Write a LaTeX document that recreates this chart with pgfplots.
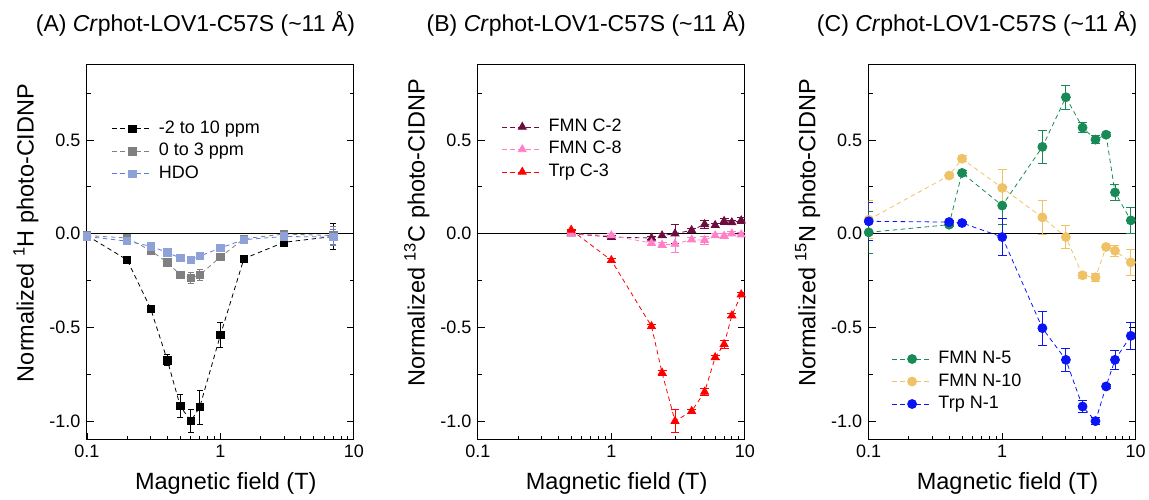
\documentclass[border=0pt]{standalone}
\usepackage{fontspec}
\setmainfont{Liberation Sans}
\usepackage{pgfplots}
\pgfplotsset{compat=1.18}
\definecolor{hdo}{HTML}{8EA2D8}
\definecolor{hdoline}{HTML}{5B7BE0}
\definecolor{gr}{HTML}{808080}
\definecolor{ctwo}{HTML}{6B0D3E}
\definecolor{ceight}{HTML}{FF80C8}
\definecolor{nfive}{HTML}{178A56}
\definecolor{nten}{HTML}{F0C266}
\definecolor{trpn}{HTML}{0A14F5}
\pgfplotsset{
    scale only axis, width=267pt, height=375pt,
    tick align=inside, major tick length=7pt, minor tick length=4pt,
    every tick/.style={black, line width=0.9pt},
    axis line style={line width=1pt},
    ticklabel style={font=\fontsize{18}{20}\selectfont},
    yticklabel style={xshift=-3pt},
    xticklabel style={yshift=-2pt},
    every axis x label/.style={at={(axis description cs:0.52,-0.115)}, anchor=center, font=\fontsize{23.5}{26}\selectfont},
    every axis y label/.style={at={(axis description cs:-0.2285,0.552)}, anchor=center, rotate=90, font=\fontsize{23.5}{26}\selectfont},
    title style={at={(axis description cs:0.5,1)}, anchor=center, yshift=35pt, xshift=-25pt, font=\fontsize{23}{26}\selectfont},
    legend cell align=left,
    legend style={draw=none, fill=none, inner sep=0pt, outer sep=0pt,
      font=\fontsize{18}{20}\selectfont, row sep=3.5pt,
      nodes={text height=13pt, text depth=4pt, inner sep=1pt},
      /tikz/every odd column/.append style={column sep=5pt}},
    legend image code/.code={\draw[mark repeat=2,mark phase=2,#1] plot coordinates {(0pt,0pt) (20pt,0pt) (40pt,0pt)};},
    every axis plot/.append style={dash pattern=on 4.5pt off 3.5pt, line width=0.8pt},
}
\pgfplotsset{
  cidnpaxis/.style={
    xmin=0.1, xmax=10, ymin=-1.1, ymax=0.9,
    xtick={0.1,1,10}, xticklabels={0.1,1,10},
    minor xtick={0.2,0.3,0.4,0.5,0.6,0.7,0.8,0.9,2,3,4,5,6,7,8,9},
    ytick={-1,-0.5,0,0.5}, yticklabels={-1.0,-0.5,0.0,0.5},
    minor ytick={-0.75,-0.25,0.25,0.75},
    xtick pos=left, xlabel={Magnetic field (T)}},
  eb/.style={mark options={solid},
      error bars/y dir=both, error bars/y explicit,
      error bars/error bar style={solid, line width=0.8pt},
      error bars/error mark options={rotate=90, mark size=#1, solid, line width=0.8pt}},
  eb/.default=4.5pt,
}
\begin{document}
\begin{tikzpicture}[x=1pt,y=1pt]
\path (0,0) rectangle (1149,500);
% ---------------- Panel A ----------------
\begin{semilogxaxis}[cidnpaxis, at={(87pt,60pt)}, anchor=south west,
  title={(A) \textit{Cr}phot-LOV1-C57S (\textasciitilde11 Å)},
  ylabel={Normalized \textsuperscript{1}H photo-CIDNP},
  legend style={at={(axis description cs:0.094,0.855)}, anchor=north west}]
\addplot[black, solid, line width=1pt, forget plot] coordinates {(0.1,0) (10,0)};
\addplot[black, mark=square*, mark size=3.7pt, eb=3pt] coordinates {
(0.1,-0.01) +- (0,0.005) (0.2,-0.14) +- (0,0.01) (0.3,-0.40) +- (0,0.01)
(0.4,-0.675) +- (0,0.03) (0.5,-0.92) +- (0,0.06) (0.6,-1.0) +- (0,0.06)
(0.7,-0.925) +- (0,0.09) (1,-0.54) +- (0,0.065) (1.5,-0.133) +- (0,0.01)
(3,-0.046) +- (0,0.01) (7,-0.015) +- (0,0.07)};
\addlegendentry{-2 to 10 ppm}
\addplot[gr, mark=square*, mark size=3.7pt, eb=3pt] coordinates {
(0.1,-0.01) +- (0,0.01) (0.2,-0.023) +- (0,0.01) (0.3,-0.09) +- (0,0.015)
(0.4,-0.153) +- (0,0.01) (0.5,-0.22) +- (0,0.015) (0.6,-0.236) +- (0,0.03)
(0.7,-0.22) +- (0,0.03) (1,-0.124) +- (0,0.01) (1.5,-0.027) +- (0,0.01)
(3,-0.002) +- (0,0.01) (7,-0.01) +- (0,0.05)};
\addlegendentry{0 to 3 ppm}
\addplot[hdoline, mark=square*, mark size=3.7pt, eb=3pt, mark options={solid, fill=hdo, draw=hdo}] coordinates {
(0.1,-0.015) +- (0,0.01) (0.2,-0.04) +- (0,0.01) (0.3,-0.067) +- (0,0.01)
(0.4,-0.10) +- (0,0.01) (0.5,-0.13) +- (0,0.01) (0.6,-0.14) +- (0,0.01)
(0.7,-0.12) +- (0,0.01) (1,-0.076) +- (0,0.01) (1.5,-0.032) +- (0,0.01)
(3,-0.015) +- (0,0.01) (7,-0.018) +- (0,0.04)};
\addlegendentry{HDO}
\end{semilogxaxis}
% ---------------- Panel B ----------------
\begin{semilogxaxis}[cidnpaxis, at={(478pt,60pt)}, anchor=south west,
  title={(B) \textit{Cr}phot-LOV1-C57S (\textasciitilde11 Å)},
  ylabel={Normalized \textsuperscript{13}C photo-CIDNP},
  legend style={at={(axis description cs:0.09,0.86)}, anchor=north west}]
\addplot[black, solid, line width=1pt, forget plot] coordinates {(0.1,0) (10,0)};
\addplot[ctwo, mark=triangle*, mark size=4.6pt, eb] coordinates {
(0.5,0) +- (0,0.003) (1,-0.018) +- (0,0.01) (2,-0.023) +- (0,0.01)
(2.4,-0.01) +- (0,0.01) (3,0.0) +- (0,0.05) (4,0.018) +- (0,0.01)
(5,0.05) +- (0,0.02) (6,0.045) +- (0,0.01) (7,0.067) +- (0,0.015)
(8,0.06) +- (0,0.01) (9.4,0.07) +- (0,0.015)};
\addlegendentry{FMN C-2}
\addplot[ceight, mark=triangle*, mark size=4.6pt, eb] coordinates {
(0.5,0) +- (0,0.003) (1,-0.01) +- (0,0.01) (2,-0.05) +- (0,0.01)
(2.4,-0.06) +- (0,0.015) (3,-0.055) +- (0,0.045) (4,-0.032) +- (0,0.01)
(5,-0.035) +- (0,0.02) (6,-0.01) +- (0,0.01) (7,-0.012) +- (0,0.015)
(8,0) +- (0,0.01) (9.4,-0.005) +- (0,0.01)};
\addlegendentry{FMN C-8}
\addplot[red, mark=triangle*, mark size=4.6pt, eb] coordinates {
(0.5,0.02) +- (0,0.005) (1,-0.142) +- (0,0.01) (2,-0.494) +- (0,0.01)
(2.4,-0.742) +- (0,0.015) (3,-1.0) +- (0,0.06) (4,-0.947) +- (0,0.01)
(5,-0.844) +- (0,0.02) (6,-0.66) +- (0,0.01) (7,-0.59) +- (0,0.02)
(8,-0.437) +- (0,0.01) (9.4,-0.325) +- (0,0.01)};
\addlegendentry{Trp C-3}
\end{semilogxaxis}
% ---------------- Panel C ----------------
\begin{semilogxaxis}[cidnpaxis, at={(869pt,60pt)}, anchor=south west,
  title={(C) \textit{Cr}phot-LOV1-C57S (\textasciitilde11 Å)},
  ylabel={Normalized \textsuperscript{15}N photo-CIDNP},
  legend style={at={(axis description cs:0.086,0.241)}, anchor=north west}]
\addplot[black, solid, line width=1pt, forget plot] coordinates {(0.1,0) (10,0)};
\addplot[nfive, mark=*, mark size=4.5pt, eb] coordinates {
(0.1,0.007) +- (0,0.11) (0.4,0.048) +- (0,0.01) (0.5,0.324) +- (0,0.015)
(1,0.15) +- (0,0.1) (2,0.463) +- (0,0.09) (3,0.728) +- (0,0.065)
(4,0.566) +- (0,0.025) (5,0.502) +- (0,0.02) (6,0.528) +- (0,0.01)
(7,0.22) +- (0,0.045) (9.2,0.071) +- (0,0.07)};
\addlegendentry{FMN N-5}
\addplot[nten, mark=*, mark size=4.5pt, eb] coordinates {
(0.1,0.075) +- (0,0.1) (0.4,0.31) +- (0,0.01) (0.5,0.4) +- (0,0.015)
(1,0.244) +- (0,0.1) (2,0.087) +- (0,0.09) (3,-0.018) +- (0,0.06)
(4,-0.222) +- (0,0.015) (5,-0.233) +- (0,0.02) (6,-0.071) +- (0,0.01)
(7,-0.091) +- (0,0.03) (9.2,-0.153) +- (0,0.07)};
\addlegendentry{FMN N-10}
\addplot[trpn, mark=*, mark size=4.5pt, eb] coordinates {
(0.1,0.066) +- (0,0.1) (0.4,0.062) +- (0,0.01) (0.5,0.057) +- (0,0.01)
(1,-0.018) +- (0,0.1) (2,-0.504) +- (0,0.09) (3,-0.673) +- (0,0.06)
(4,-0.922) +- (0,0.03) (5,-1.0) +- (0,0.02) (6,-0.815) +- (0,0.01)
(7,-0.673) +- (0,0.05) (9.2,-0.545) +- (0,0.07)};
\addlegendentry{Trp N-1}
\end{semilogxaxis}
\end{tikzpicture}
\end{document}
